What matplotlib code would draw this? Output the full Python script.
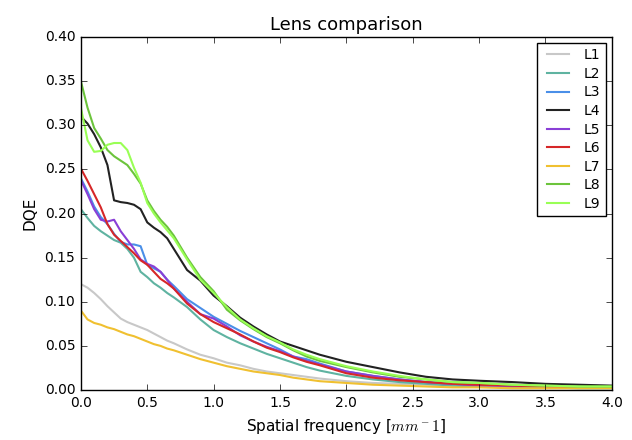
import matplotlib
matplotlib.use('Agg')
from matplotlib import pyplot as plt

# spatial frequency samples (mm^-1)
freq = [0, 0.05, 0.1, 0.15, 0.2, 0.25, 0.3, 0.35, 0.4, 0.45, 0.5, 0.55, 0.6, 0.65, 0.7,
        0.8, 0.9, 1.0, 1.1, 1.2, 1.3, 1.4, 1.5, 1.6, 1.7, 1.8, 2.0, 2.2, 2.4, 2.6, 2.8,
        3.0, 3.25, 3.5, 3.75, 4.0]

L1 = [0.120, 0.116, 0.110, 0.103, 0.095, 0.088, 0.081, 0.077, 0.074, 0.071, 0.068, 0.064,
      0.060, 0.056, 0.053, 0.046, 0.040, 0.036, 0.031, 0.028, 0.024, 0.021, 0.019, 0.017,
      0.015, 0.013, 0.010, 0.008, 0.007, 0.006, 0.005, 0.004, 0.004, 0.003, 0.003, 0.003]
L2 = [0.205, 0.195, 0.186, 0.180, 0.175, 0.170, 0.167, 0.160, 0.150, 0.134, 0.128, 0.121,
      0.116, 0.110, 0.105, 0.094, 0.080, 0.068, 0.060, 0.053, 0.047, 0.041, 0.036, 0.031,
      0.026, 0.022, 0.016, 0.012, 0.009, 0.007, 0.005, 0.004, 0.003, 0.003, 0.002, 0.002]
L3 = [0.240, 0.225, 0.208, 0.196, 0.188, 0.177, 0.168, 0.165, 0.165, 0.163, 0.142, 0.138,
      0.134, 0.125, 0.118, 0.103, 0.093, 0.083, 0.075, 0.067, 0.060, 0.053, 0.046, 0.038,
      0.035, 0.030, 0.021, 0.016, 0.012, 0.009, 0.007, 0.006, 0.005, 0.004, 0.003, 0.003]
L4 = [0.310, 0.302, 0.290, 0.275, 0.255, 0.215, 0.213, 0.212, 0.210, 0.205, 0.190, 0.184,
      0.179, 0.172, 0.160, 0.136, 0.124, 0.107, 0.095, 0.082, 0.072, 0.063, 0.055, 0.050,
      0.045, 0.040, 0.032, 0.026, 0.020, 0.015, 0.012, 0.0105, 0.009, 0.007, 0.006, 0.005]
L5 = [0.238, 0.222, 0.205, 0.193, 0.191, 0.193, 0.180, 0.170, 0.160, 0.148, 0.143, 0.140,
      0.134, 0.125, 0.115, 0.100, 0.086, 0.081, 0.072, 0.062, 0.055, 0.049, 0.044, 0.038,
      0.033, 0.029, 0.021, 0.016, 0.012, 0.009, 0.007, 0.005, 0.004, 0.004, 0.003, 0.003]
L6 = [0.251, 0.237, 0.222, 0.207, 0.188, 0.176, 0.169, 0.162, 0.155, 0.147, 0.142, 0.134,
      0.126, 0.121, 0.115, 0.098, 0.086, 0.077, 0.070, 0.063, 0.055, 0.048, 0.043, 0.037,
      0.032, 0.028, 0.019, 0.014, 0.011, 0.009, 0.007, 0.006, 0.005, 0.004, 0.003, 0.003]
L7 = [0.090, 0.080, 0.076, 0.074, 0.071, 0.069, 0.066, 0.063, 0.061, 0.058, 0.055, 0.052,
      0.050, 0.047, 0.045, 0.040, 0.035, 0.031, 0.027, 0.024, 0.021, 0.019, 0.017, 0.014,
      0.012, 0.010, 0.008, 0.006, 0.005, 0.004, 0.003, 0.003, 0.002, 0.002, 0.002, 0.002]
L8 = [0.350, 0.320, 0.297, 0.285, 0.272, 0.265, 0.260, 0.255, 0.245, 0.234, 0.215, 0.203,
      0.193, 0.185, 0.175, 0.150, 0.128, 0.112, 0.091, 0.079, 0.069, 0.060, 0.053, 0.045,
      0.038, 0.033, 0.026, 0.020, 0.015, 0.012, 0.009, 0.008, 0.006, 0.005, 0.004, 0.004]
L9 = [0.320, 0.283, 0.270, 0.271, 0.278, 0.280, 0.280, 0.272, 0.252, 0.235, 0.212, 0.200,
      0.190, 0.181, 0.172, 0.148, 0.125, 0.110, 0.094, 0.080, 0.070, 0.061, 0.054, 0.046,
      0.040, 0.035, 0.027, 0.021, 0.016, 0.012, 0.009, 0.008, 0.006, 0.005, 0.004, 0.004]

names = ['L1', 'L2', 'L3', 'L4', 'L5', 'L6', 'L7', 'L8', 'L9']
series = [L1, L2, L3, L4, L5, L6, L7, L8, L9]
colors = ['#c8c8c8', '#5fb3a1', '#4a8fe8', '#222222', '#8a3fd6',
          '#d62728', '#f0c030', '#6cc43c', '#99ff55']

plt.style.use('classic')
fig = plt.figure(figsize=(6.32, 4.40), dpi=100)
ax = fig.add_axes([0.128, 0.1136, 0.840, 0.802])

for name, vals, c in zip(names, series, colors):
    ax.plot(freq, vals, color=c, lw=1.5, label=name)

ax.set_xlim(0, 4)
ax.set_ylim(0, 0.4)
ax.set_xticks([0, 0.5, 1.0, 1.5, 2.0, 2.5, 3.0, 3.5, 4.0])
ax.set_yticks([0, 0.05, 0.1, 0.15, 0.2, 0.25, 0.3, 0.35, 0.4])
ax.tick_params(labelsize=10)
ax.set_xlabel(r'Spatial frequency [$mm^-1$]', fontsize=11)
ax.set_ylabel('DQE', fontsize=11)
ax.set_title('Lens comparison', fontsize=13)
ax.legend(loc='upper right', fontsize=10, handlelength=2.2, labelspacing=0.33,
          borderaxespad=0.4)

fig.savefig('out.png', dpi=100)
